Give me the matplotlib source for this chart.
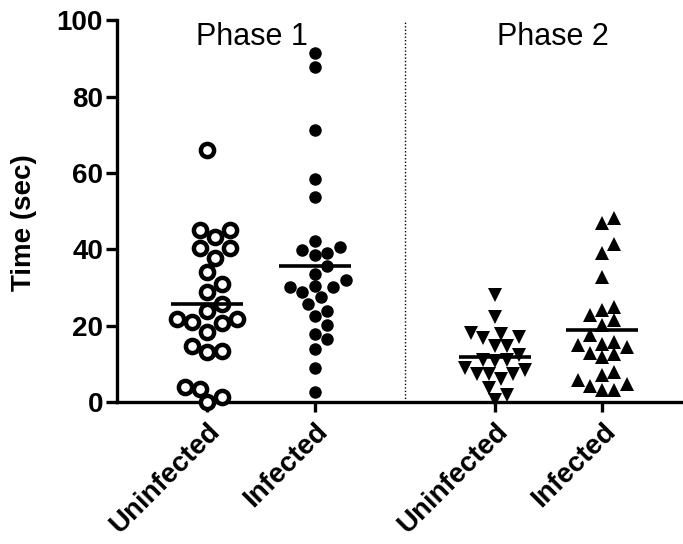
import numpy as np
import matplotlib.pyplot as plt

# values (seconds)
p1_uninf = [66.0, 43.2, 45.0, 45.0, 40.2, 40.4, 37.6, 34.1, 31.0, 28.7, 25.6, 23.8,
            21.8, 21.0, 18.3, 20.7, 21.8, 13.4, 13.1, 14.6, 3.5, 0.0, 1.3, 3.9]
p1_inf = [91.3, 87.8, 71.2, 58.5, 53.7, 42.2, 39.0, 40.6, 39.7, 38.4, 35.6, 33.6, 31.9,
          30.0, 28.7, 30.3, 30.0, 27.4, 25.6, 23.8, 22.5, 20.1, 17.7, 16.6, 13.8, 9.0, 2.6]
p2_uninf = [28.0, 22.3, 18.1, 17.0, 17.7, 16.8, 14.6, 14.6, 12.2, 10.9, 10.7, 10.9,
            9.0, 7.4, 7.3, 6.1, 7.4, 8.3, 3.7, 0.6, 1.8]
p2_inf = [46.9, 48.3, 41.5, 38.9, 32.7, 24.2, 24.9, 21.6, 22.7, 20.1, 17.5, 15.3, 14.4,
          12.5, 11.8, 12.8, 14.9, 15.7, 7.9, 5.7, 4.1, 3.2, 3.2, 4.8, 7.0]

groups = [p1_uninf, p1_inf, p2_uninf, p2_inf]
labels = ["Uninfected", "Infected", "Uninfected", "Infected"]
positions = [0, 1, 2.68, 3.68]
phases = ["Phase 1", "Phase 2"]

plt.rcParams['font.family'] = ['Liberation Sans', 'DejaVu Sans']

fig = plt.figure(figsize=(6.83, 5.44), dpi=100)
ax = fig.add_axes([0.1713, 0.261, 0.8287, 0.702])
ax.set_xlim(-0.84, 4.43)
ax.set_ylim(0, 100)

# pixel scales for the swarm layout
px_x = 107.0
px_y = ax.get_position().height * 544 / 100.0


def swarm(vals, diam):
    order = np.argsort(vals)
    placed = []
    offs = np.zeros(len(vals))
    for i in order:
        y = vals[i] * px_y
        cands = [0.0]
        for k in range(1, 12):
            cands += [k * diam * 0.5, -k * diam * 0.5]
        for c in cands:
            ok = True
            for (px, py) in placed:
                if (c - px) ** 2 + (y - py) ** 2 < diam ** 2:
                    ok = False
                    break
            if ok:
                offs[i] = c
                placed.append((c, y))
                break
    return offs / px_x


styles = [
    dict(marker='o', ms=9.5, mfc='white', mec='black', mew=3.2),
    dict(marker='o', ms=9, mfc='black', mec='black', mew=0),
    dict(marker='v', ms=9.5, mfc='black', mec='black', mew=0),
    dict(marker='^', ms=9.5, mfc='black', mec='black', mew=0),
]
diams = [15.0, 12.5, 12.0, 12.0]

for vals, pos, st, d in zip(groups, positions, styles, diams):
    vals = np.array(vals)
    xs = pos + swarm(vals, d)
    ax.plot(xs, vals, ls='none', clip_on=False, zorder=3, **st)
    m = vals.mean()
    ax.plot([pos - 0.335, pos + 0.335], [m, m], color='black', lw=2.6,
            solid_capstyle='butt', zorder=4, clip_on=False)

ax.axvline(1.84, color='black', lw=1, ls=(0, (1, 1.5)), zorder=1)

ax.text(0.42, 95.5, phases[0], ha='center', va='center', fontsize=22)
ax.text(3.22, 95.5, phases[1], ha='center', va='center', fontsize=22)

for s in ['top', 'right']:
    ax.spines[s].set_visible(False)
for s in ['left', 'bottom']:
    ax.spines[s].set_linewidth(2.4)

ax.set_yticks([0, 20, 40, 60, 80, 100])
ax.tick_params(axis='y', length=8, width=2.4, labelsize=20, pad=2)
ax.set_xticks(positions)
ax.set_xticklabels(labels, rotation=45, ha='right', rotation_mode='anchor',
                   fontsize=20, fontweight='bold')
ax.tick_params(axis='x', length=7, width=2.4, pad=5)
for t in ax.get_yticklabels():
    t.set_fontweight('bold')
ax.set_ylabel("Time (sec)", fontsize=20, fontweight='bold', va='center')
ax.yaxis.set_label_coords(-0.165, 0.47)

fig.savefig("out.png", dpi=100)
